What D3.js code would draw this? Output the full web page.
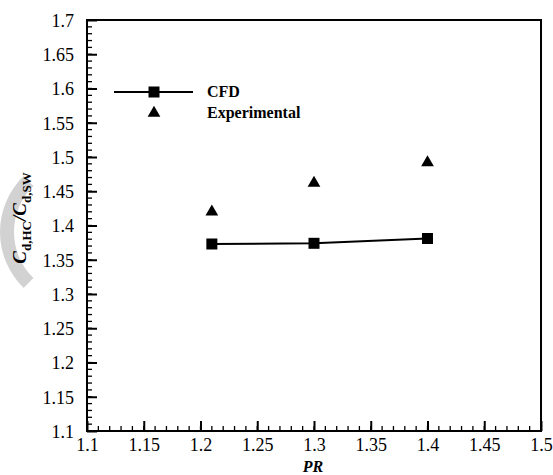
<!DOCTYPE html>
<html>
<head>
<meta charset="utf-8">
<script src="https://cdnjs.cloudflare.com/ajax/libs/d3/7.8.5/d3.min.js"></script>
<style>
  body { margin: 0; background: #fff; }
  svg { display: block; }
</style>
</head>
<body>
<div id="chart"></div>
<script>
// values
var prValues = [1.21, 1.30, 1.40];
var cfdValues = [1.373, 1.374, 1.381];
var expValues = [1.42, 1.462, 1.492];
var xTickValues = [1.1, 1.15, 1.2, 1.25, 1.3, 1.35, 1.4, 1.45, 1.5];
var yTickValues = [1.1, 1.15, 1.2, 1.25, 1.3, 1.35, 1.4, 1.45, 1.5, 1.55, 1.6, 1.65, 1.7];
var seriesNames = ["CFD", "Experimental"];

var serif = "'Liberation Serif'";
var width = 553, height = 475;
var plotL = 87, plotR = 541, plotT = 20, plotB = 431;

var svg = d3.select("#chart").append("svg")
  .attr("width", width)
  .attr("height", height);

var x = d3.scaleLinear().domain([1.1, 1.5]).range([plotL, plotR]);
var y = d3.scaleLinear().domain([1.1, 1.7]).range([plotB, plotT]);

function fmt(v) { return String(+v.toFixed(2)); }

// faint grey mark at the left edge of the scan
svg.append("path")
  .attr("transform", "translate(78,232)")
  .attr("d", d3.arc()({innerRadius: 64, outerRadius: 78, startAngle: -Math.PI / 2 - 0.8, endAngle: -Math.PI / 2 + 0.8}))
  .style("fill", "#d2d2d2");

// minor ticks every 0.01
var xMinor = d3.range(1.1, 1.5001, 0.01);
var yMinor = d3.range(1.1, 1.7001, 0.01);

var xAxis = d3.axisBottom(x).tickValues(xTickValues).tickSize(-10).tickPadding(16).tickFormat(fmt);
var yAxis = d3.axisLeft(y).tickValues(yTickValues).tickSize(-10).tickPadding(16).tickFormat(fmt);

var gx = svg.append("g").attr("transform", "translate(0," + plotB + ")");
gx.selectAll(".minor").data(xMinor).enter().append("line")
  .attr("x1", function (d) { return x(d); }).attr("x2", function (d) { return x(d); })
  .attr("y1", 0).attr("y2", -5)
  .style("stroke", "#000").style("stroke-width", 1.3);
gx.call(xAxis);

var gy = svg.append("g").attr("transform", "translate(" + plotL + ",0)");
gy.selectAll(".minor").data(yMinor).enter().append("line")
  .attr("y1", function (d) { return y(d); }).attr("y2", function (d) { return y(d); })
  .attr("x1", 0).attr("x2", 5)
  .style("stroke", "#000").style("stroke-width", 1.3);
gy.call(yAxis);

[gx, gy].forEach(function (g) {
  g.select(".domain").remove();
  g.selectAll(".tick line").style("stroke", "#000").style("stroke-width", 2);
  g.selectAll(".tick text").style("fill", "#000")
    .style("font-family", serif).style("font-size", "18px");
});
gx.selectAll(".tick text").attr("dy", "0.2em");
gy.selectAll(".tick text").attr("dx", "3px").attr("dy", "0.35em");

// frame
svg.append("rect")
  .attr("x", plotL).attr("y", plotT)
  .attr("width", plotR - plotL).attr("height", plotB - plotT)
  .style("fill", "none").style("stroke", "#000").style("stroke-width", 2);

// axis titles
svg.append("text")
  .attr("x", (plotL + plotR) / 2 - 1).attr("y", 472)
  .attr("text-anchor", "middle")
  .style("font-family", serif).style("font-size", "16px")
  .style("font-weight", "bold").style("font-style", "italic")
  .text("PR");

var yt = svg.append("text")
  .attr("transform", "translate(26,218) rotate(-90)")
  .attr("text-anchor", "middle")
  .style("font-family", serif).style("font-size", "19px").style("font-weight", "bold");
yt.append("tspan").style("font-style", "italic").text("C");
yt.append("tspan").attr("dy", 5).style("font-size", "13px").text("d,HC");
yt.append("tspan").attr("dy", -5).style("font-style", "italic").text("/C");
yt.append("tspan").attr("dy", 5).style("font-size", "13px").text("d,SW");

// CFD series
var pts = prValues.map(function (p, i) { return [p, cfdValues[i], expValues[i]]; });

svg.append("path")
  .datum(pts)
  .attr("d", d3.line().x(function (d) { return x(d[0]); }).y(function (d) { return y(d[1]); }))
  .style("fill", "none").style("stroke", "#000").style("stroke-width", 2);

var square = d3.symbol().type(d3.symbolSquare).size(121);
var triangle = d3.symbol().type(d3.symbolTriangle).size(70);

svg.selectAll(".cfd").data(pts).enter().append("path")
  .attr("transform", function (d) { return "translate(" + x(d[0]) + "," + y(d[1]) + ")"; })
  .attr("d", square)
  .style("fill", "#000");

svg.selectAll(".exp").data(pts).enter().append("path")
  .attr("transform", function (d) { return "translate(" + x(d[0]) + "," + y(d[2]) + ")"; })
  .attr("d", triangle)
  .style("fill", "#000");

// legend
var lg = svg.append("g");
lg.append("line").attr("x1", 114).attr("x2", 193).attr("y1", 92).attr("y2", 92)
  .style("stroke", "#000").style("stroke-width", 2);
lg.append("path").attr("transform", "translate(154,92)").attr("d", square).style("fill", "#000");
lg.append("path").attr("transform", "translate(154,113)").attr("d", triangle).style("fill", "#000");
lg.selectAll("text").data(seriesNames).enter().append("text")
  .attr("x", 207).attr("y", function (d, i) { return 97 + i * 21; })
  .style("font-family", serif).style("font-size", "16px").style("font-weight", "bold")
  .text(function (d) { return d; });
</script>
</body>
</html>
